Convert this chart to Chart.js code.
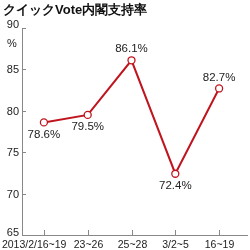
<!DOCTYPE html>
<html><head><meta charset="utf-8">
<script src="https://cdn.jsdelivr.net/npm/chart.js@4"></script>
<style>html,body{margin:0;padding:0;background:#fff}#w{position:relative;width:250px;height:250px}</style>
</head><body><div id="w"><canvas id="c" width="250" height="250"></canvas></div>
<script>
const title = 'クイックVote内閣支持率';
const categories = ['2013/2/16~19', '23~26', '25~28', '3/2~5', '16~19'];
const approval = [78.6, 79.5, 86.1, 72.4, 82.7];
const yTicks = [65, 70, 75, 80, 85, 90];
const unitLabel = '%';

const FONT = '"Liberation Sans", Arial, sans-serif';
const TXT = '#222';
const AXIS = '#888';

const deco = {
  id: 'deco',
  afterDraw(chart) {
    const ctx = chart.ctx, x = chart.scales.x, y = chart.scales.y, a = chart.chartArea;
    ctx.save();
    ctx.strokeStyle = AXIS; ctx.lineWidth = 1;
    // axes
    ctx.beginPath();
    ctx.moveTo(a.left + 0.5, y.getPixelForValue(90));
    ctx.lineTo(a.left + 0.5, a.bottom + 0.5);
    ctx.lineTo(chart.width - 2, a.bottom + 0.5);
    ctx.stroke();
    // y ticks
    ctx.font = '11px ' + FONT; ctx.fillStyle = TXT;
    ctx.textAlign = 'right'; ctx.textBaseline = 'middle';
    yTicks.forEach(v => {
      const py = Math.round(y.getPixelForValue(v)) + 0.5;
      ctx.beginPath(); ctx.moveTo(a.left, py); ctx.lineTo(a.left + 4, py); ctx.stroke();
      let ty = py;
      if (v === 90) ty = py - 4;
      if (v === 65) ty = py - 3;
      ctx.fillText(String(v), a.left - 3, ty);
    });
    ctx.textAlign = 'center';
    ctx.fillText(unitLabel, 12, y.getPixelForValue(90) + 16);
    // x ticks & labels
    ctx.font = '10.5px ' + FONT;
    const spacing = x.getPixelForValue(1) - x.getPixelForValue(0);
    ctx.textBaseline = 'middle';
    categories.forEach((c, i) => {
      const px = Math.round(x.getPixelForValue(i)) + 0.5;
      ctx.beginPath(); ctx.moveTo(px, a.bottom); ctx.lineTo(px, a.bottom - 5); ctx.stroke();
      const w = ctx.measureText(c).width;
      let cx = px;
      if (w > spacing) cx = px + spacing / 2 - w / 2;
      ctx.textAlign = 'center';
      ctx.fillText(c, cx, a.bottom + 10);
    });
    // title
    ctx.font = 'bold 13px ' + FONT; ctx.textAlign = 'left'; ctx.textBaseline = 'middle';
    ctx.fillStyle = '#111';
    ctx.fillText(title, 3, 10);
    ctx.restore();
  },
  afterDatasetsDraw(chart) {
    const ctx = chart.ctx, meta = chart.getDatasetMeta(0);
    ctx.save();
    ctx.font = '11.5px ' + FONT; ctx.fillStyle = TXT;
    ctx.textAlign = 'center'; ctx.textBaseline = 'middle';
    meta.data.forEach((pt, i) => {
      const v = approval[i];
      const prev = approval[i - 1], next = approval[i + 1];
      const above = prev !== undefined && v > prev && (next === undefined || v > next);
      ctx.fillText(v.toFixed(1) + '%', pt.x, above ? pt.y - 11 : pt.y + 12);
    });
    ctx.restore();
  }
};

new Chart(document.getElementById('c'), {
  type: 'line',
  data: { labels: categories, datasets: [{
    data: approval,
    borderColor: '#c0141e', borderWidth: 2,
    pointRadius: 3.5, pointBackgroundColor: '#fff', pointBorderColor: '#c0141e', pointBorderWidth: 1.3,
    tension: 0, clip: false
  }]},
  options: {
    responsive: false, animation: false,
    layout: { padding: { top: 28, right: 9, bottom: 7, left: 0 } },
    plugins: { legend: { display: false }, tooltip: { enabled: false }, title: { display: false } },
    scales: {
      x: { type: 'category', offset: true, grid: { display: false }, border: { display: false },
           ticks: { display: false } },
      y: { min: 65, max: 90, grid: { display: false }, border: { display: false },
           ticks: { display: false, stepSize: 5 },
           afterFit(s) { s.width = 22; } }
    }
  },
  plugins: [deco]
});
</script></body></html>
